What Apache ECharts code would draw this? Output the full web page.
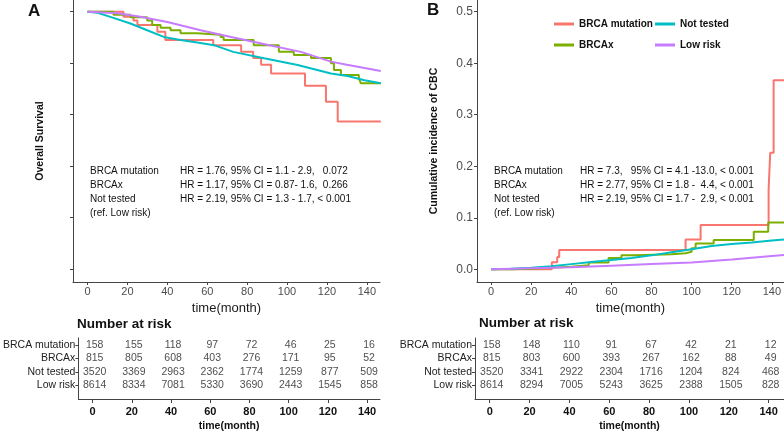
<!DOCTYPE html>
<html>
<head>
<meta charset="utf-8">
<script src="https://cdn.jsdelivr.net/npm/echarts@6/dist/echarts.min.js"></script>
<style>html,body{margin:0;padding:0;background:#fff}#c{width:784px;height:436px}</style>
</head>
<body>
<div id="c"></div>
<script>
// ---- data ----
const groups = ['BRCA mutation', 'BRCAx', 'Not tested', 'Low risk'];
const timeTicks = [0, 20, 40, 60, 80, 100, 120, 140];

// Panel A: overall survival (step curves)
const osBrcaT = [0, 18, 23, 25, 35, 39, 63, 77, 83, 87, 92, 109, 119.5, 125.4, 147];
const osBrcaS = [1, 0.990, 0.983, 0.974, 0.961, 0.945, 0.935, 0.922, 0.910, 0.897, 0.880, 0.856, 0.825, 0.787, 0.787];
const osBrcaxT = [0, 13, 21.5, 29.9, 32.4, 36.6, 41.6, 46.6, 55, 66.7, 68.2, 83.3, 95.9, 103.4, 112, 122, 123.5, 127, 136, 137, 147];
const osBrcaxS = [1, 0.994, 0.989, 0.983, 0.974, 0.969, 0.964, 0.958, 0.955, 0.951, 0.945, 0.935, 0.922, 0.916, 0.910, 0.900, 0.887, 0.877, 0.871, 0.861, 0.861];
const osNtT = [0, 5, 11.4, 21.5, 29.9, 38.2, 46.6, 55, 63.4, 73, 88.5, 105.3, 122, 130.4, 138.8, 147];
const osNtS = [1, 0.998, 0.990, 0.977, 0.964, 0.951, 0.945, 0.940, 0.935, 0.922, 0.9095, 0.8965, 0.880, 0.875, 0.867, 0.861];
const osLowT = [0, 15, 26.5, 40, 56.7, 72, 90, 107, 122, 130, 147];
const osLowS = [1, 0.997, 0.990, 0.980, 0.964, 0.951, 0.936, 0.922, 0.903, 0.897, 0.885];

// Panel B: cumulative incidence of CBC
const cumBrcaT = [0, 30.3, 33, 34, 97, 104.5, 138.4, 139.2, 140.9, 147];
const cumBrcaV = [0, 0.0136, 0.024, 0.0375, 0.058, 0.086, 0.155, 0.226, 0.367, 0.367];
const cumBrcaxT = [0, 10, 20, 30, 40, 48.7, 58.6, 65, 72, 90, 97, 100, 102, 111, 131, 138.2, 147];
const cumBrcaxV = [0, 0.001, 0.003, 0.005, 0.008, 0.013, 0.022, 0.027, 0.029, 0.031, 0.034, 0.041, 0.050, 0.057, 0.073, 0.091, 0.091];
const cumNtT = [0, 10, 20, 30, 40, 50, 60, 70, 80, 90, 100, 110, 120, 130, 140, 147];
const cumNtV = [0, 0.001, 0.003, 0.006, 0.010, 0.014, 0.018, 0.022, 0.027, 0.033, 0.039, 0.045, 0.049, 0.052, 0.056, 0.058];
const cumLowT = [0, 20, 40, 60, 80, 100, 120, 140, 147];
const cumLowV = [0, 0.002, 0.004, 0.007, 0.010, 0.013, 0.019, 0.026, 0.028];

// Numbers at risk
const riskA_brca = [158, 155, 118, 97, 72, 46, 25, 16];
const riskA_brcax = [815, 805, 608, 403, 276, 171, 95, 52];
const riskA_nt = [3520, 3369, 2963, 2362, 1774, 1259, 877, 509];
const riskA_low = [8614, 8334, 7081, 5330, 3690, 2443, 1545, 858];
const riskB_brca = [158, 148, 110, 91, 67, 42, 21, 12];
const riskB_brcax = [815, 803, 600, 393, 267, 162, 88, 49];
const riskB_nt = [3520, 3341, 2922, 2304, 1716, 1204, 824, 468];
const riskB_low = [8614, 8294, 7005, 5243, 3625, 2388, 1505, 828];

const osTicks = [0.5, 0.6, 0.7, 0.8, 0.9, 1.0];
const cumTicks = [0, 0.1, 0.2, 0.3, 0.4, 0.5];

const hrA = ['HR = 1.76, 95% CI = 1.1 - 2.9,   0.072', 'HR = 1.17, 95% CI = 0.87- 1.6,  0.266', 'HR = 2.19, 95% CI = 1.3 - 1.7, < 0.001'];
const hrB = ['HR = 7.3,   95% CI = 4.1 -13.0, < 0.001', 'HR = 2.77, 95% CI = 1.8 -  4.4, < 0.001', 'HR = 2.19, 95% CI = 1.7 -  2.9, < 0.001'];
const annLabels = ['BRCA mutation', 'BRCAx', 'Not tested', '(ref. Low risk)'];

const colors = ['#F8766D', '#7CAE00', '#00BFC4', '#C77CFF'];

// ---- build ----
const zip = (t, v) => t.map((x, i) => [x, v[i]]);
const FONT = '"Liberation Sans", Arial, sans-serif';
const axisCol = '#444';

function tableData(rows) {
  const d = [];
  rows.forEach((r, ri) => r.forEach((n, i) => d.push([timeTicks[i], ri + 1, n])));
  return d;
}

const curvesA = [zip(osBrcaT, osBrcaS), zip(osBrcaxT, osBrcaxS), zip(osNtT, osNtS), zip(osLowT, osLowS)];
const curvesB = [zip(cumBrcaT, cumBrcaV), zip(cumBrcaxT, cumBrcaxV), zip(cumNtT, cumNtV), zip(cumLowT, cumLowV)];
const stepA = ['end', 'end', false, false];
const stepB = ['end', 'end', false, false];

const series = [];
[curvesA, curvesB].forEach((curves, gi) => {
  curves.forEach((c, k) => {
    series.push({
      type: 'line', name: groups[k], xAxisIndex: gi, yAxisIndex: gi,
      data: c, step: (gi === 0 ? stepA : stepB)[k], showSymbol: false, symbol: 'none',
      lineStyle: { color: colors[k], width: 2 }, itemStyle: { color: colors[k] },
      z: k === 0 ? 1 : 2 + k
    });
  });
});
[[riskA_brca, riskA_brcax, riskA_nt, riskA_low], [riskB_brca, riskB_brcax, riskB_nt, riskB_low]].forEach((rows, ti) => {
  series.push({
    type: 'scatter', name: 'risk' + ti, xAxisIndex: 2 + ti, yAxisIndex: 2 + ti,
    data: tableData(rows), symbolSize: 0, itemStyle: { color: 'transparent' },
    label: { show: true, position: 'inside', formatter: p => String(p.value[2]), color: '#222', fontSize: 10.5, fontFamily: FONT, offset: [2, 0] },
    silent: true
  });
});

function xAxisPlot(grid, min, max) {
  return {
    type: 'value', gridIndex: grid, min: min, max: max,
    name: 'time(month)', nameLocation: 'middle', nameGap: 18,
    nameTextStyle: { fontFamily: FONT, fontSize: 13, color: '#1a1a1a' },
    axisLine: { show: true, onZero: false, lineStyle: { color: axisCol, width: 1 } },
    axisTick: { show: true, length: 3, customValues: timeTicks, lineStyle: { color: axisCol } },
    axisLabel: { customValues: timeTicks, margin: 4, fontFamily: FONT, fontSize: 11, color: '#4d4d4d' },
    splitLine: { show: false }
  };
}
function xAxisTable(grid, min, max) {
  return {
    type: 'value', gridIndex: grid, min: min, max: max,
    name: 'time(month)', nameLocation: 'middle', nameGap: 22,
    nameTextStyle: { fontFamily: FONT, fontSize: 10.5, fontWeight: 'bold', color: '#111' },
    axisLine: { show: true, onZero: false, lineStyle: { color: axisCol, width: 1 } },
    axisTick: { show: true, length: 4, customValues: timeTicks, lineStyle: { color: axisCol } },
    axisLabel: { customValues: timeTicks, margin: 7, fontFamily: FONT, fontSize: 11, fontWeight: 'bold', color: '#111' },
    splitLine: { show: false }
  };
}
function yAxisTable(grid) {
  return {
    type: 'value', gridIndex: grid, min: 0.5, max: 5, inverse: true,
    axisLine: { show: true, onZero: false, lineStyle: { color: axisCol, width: 1 } },
    axisTick: { show: true, length: 3, customValues: [1, 2, 3, 4], lineStyle: { color: axisCol } },
    axisLabel: { customValues: [1, 2, 3, 4], margin: 3, formatter: v => groups[Math.round(v) - 1] || '', fontFamily: FONT, fontSize: 10.5, color: '#222' },
    splitLine: { show: false }
  };
}

const graphics = [
  { type: 'text', left: 28, top: 3, style: { text: 'A', font: 'bold 17px ' + FONT, fill: '#111' } },
  { type: 'text', left: 427, top: 2, style: { text: 'B', font: 'bold 17px ' + FONT, fill: '#111' } },
  { type: 'text', left: 77, top: 317, style: { text: 'Number at risk', font: 'bold 13.5px ' + FONT, fill: '#111' } },
  { type: 'text', left: 479, top: 316, style: { text: 'Number at risk', font: 'bold 13.5px ' + FONT, fill: '#111' } }
];
const rowY = [171, 185, 199, 213];
annLabels.forEach((lab, i) => {
  graphics.push({ type: 'text', x: 90, y: rowY[i], style: { text: lab, font: '10px ' + FONT, fill: '#111', textVerticalAlign: 'middle' } });
  graphics.push({ type: 'text', x: 494, y: rowY[i], style: { text: lab, font: '10px ' + FONT, fill: '#111', textVerticalAlign: 'middle' } });
  if (i < 3) {
    graphics.push({ type: 'text', x: 180, y: rowY[i], style: { text: hrA[i], font: '10px ' + FONT, fill: '#111', textVerticalAlign: 'middle' } });
    graphics.push({ type: 'text', x: 580, y: rowY[i], style: { text: hrB[i], font: '10px ' + FONT, fill: '#111', textVerticalAlign: 'middle' } });
  }
});

const legendPos = [[549, 14], [549, 35], [650, 14], [650, 35]];
const legends = groups.map((g, k) => ({
  data: [g], left: legendPos[k][0], top: legendPos[k][1], icon: 'rect', itemWidth: 20, itemHeight: 3,
  selectedMode: false, itemGap: 0,
  textStyle: { fontFamily: FONT, fontSize: 10, fontWeight: 'bold', color: '#111', padding: [0, 0, 0, 0] }
}));

const option = {
  animation: false,
  backgroundColor: '#fff',
  grid: [
    { left: 73, top: 0, width: 307, height: 282 },
    { left: 477, top: 0, width: 307, height: 282 },
    { left: 73, top: 338, width: 307, height: 61 },
    { left: 475, top: 338, width: 309, height: 61 }
  ],
  xAxis: [xAxisPlot(0, -7.3, 146.6), xAxisPlot(1, -7.0, 146), xAxisTable(2, -7.3, 146.6), xAxisTable(3, -7.4, 147.7)],
  yAxis: [
    {
      type: 'value', gridIndex: 0, min: 0.4751, max: 1.0227,
      name: 'Overall Survival', nameLocation: 'middle', nameGap: 27,
      nameTextStyle: { fontFamily: FONT, fontSize: 10.5, fontWeight: 'bold', color: '#111' },
      axisLine: { show: true, onZero: false, lineStyle: { color: axisCol, width: 1 } },
      axisTick: { show: true, length: 3, customValues: osTicks, lineStyle: { color: axisCol } },
      axisLabel: { show: false },
      splitLine: { show: false }
    },
    {
      type: 'value', gridIndex: 1, min: -0.0247, max: 0.5227,
      name: 'Cumulative incidence of CBC', nameLocation: 'middle', nameGap: 37,
      nameTextStyle: { fontFamily: FONT, fontSize: 10.5, fontWeight: 'bold', color: '#111' },
      axisLine: { show: true, onZero: false, lineStyle: { color: axisCol, width: 1 } },
      axisTick: { show: true, length: 3, customValues: cumTicks, lineStyle: { color: axisCol } },
      axisLabel: { customValues: cumTicks, margin: 4, formatter: v => v.toFixed(1), fontFamily: FONT, fontSize: 12, color: '#4d4d4d' },
      splitLine: { show: false }
    },
    yAxisTable(2), yAxisTable(3)
  ],
  legend: legends,
  graphic: graphics,
  series: series
};

const chart = echarts.init(document.getElementById('c'), null, { renderer: 'canvas' });
chart.setOption(option);
</script>
</body>
</html>
